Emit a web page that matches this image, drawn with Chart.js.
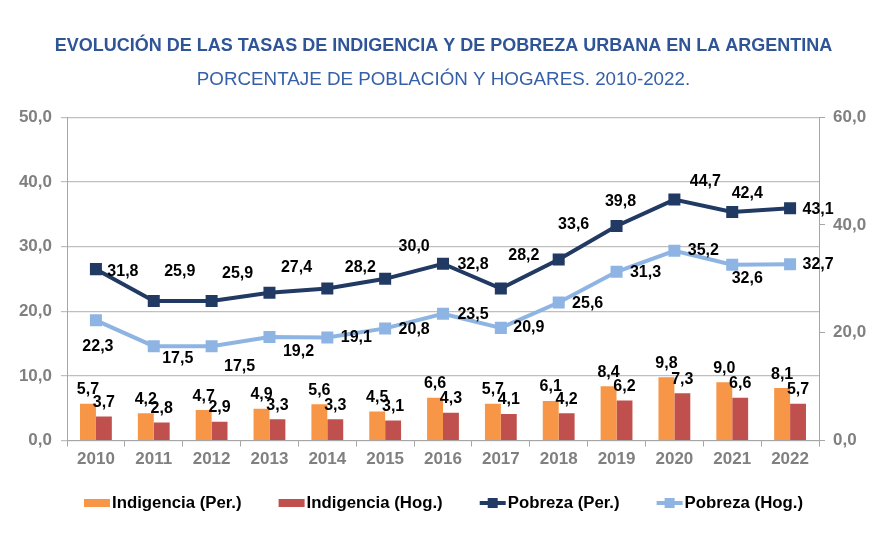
<!DOCTYPE html>
<html lang="es">
<head>
<meta charset="utf-8">
<title>Indigencia y pobreza urbana</title>
<script src="https://cdn.jsdelivr.net/npm/chart.js@4.4.1/dist/chart.umd.min.js"></script>
<style>
  html, body { margin: 0; padding: 0; background: #fff; }
  #contenedor { width: 887px; height: 558px; position: relative; }
</style>
</head>
<body>
<div id="contenedor"><canvas id="grafico"></canvas></div>
<script>
// datos
const anios = ['2010', '2011', '2012', '2013', '2014', '2015', '2016', '2017', '2018', '2019', '2020', '2021', '2022'];
const indigenciaPer = [5.7, 4.2, 4.7, 4.9, 5.6, 4.5, 6.6, 5.7, 6.1, 8.4, 9.8, 9.0, 8.1];
const indigenciaHog = [3.7, 2.8, 2.9, 3.3, 3.3, 3.1, 4.3, 4.1, 4.2, 6.2, 7.3, 6.6, 5.7];
const pobrezaPer = [31.8, 25.9, 25.9, 27.4, 28.2, 30.0, 32.8, 28.2, 33.6, 39.8, 44.7, 42.4, 43.1];
const pobrezaHog = [22.3, 17.5, 17.5, 19.2, 19.1, 20.8, 23.5, 20.9, 25.6, 31.3, 35.2, 32.6, 32.7];
const ticksIzq = [0, 10, 20, 30, 40, 50];
const ticksDer = [0, 20, 40, 60];

// colores
const NARANJA = '#F79646';
const ROJO = '#C0504D';
const AZUL_OSCURO = '#213A63';
const AZUL_CLARO = '#8EB4E3';
const GRIS = '#808080';
const FUENTE = '"Liberation Sans", Arial, sans-serif';

// desplazamiento [dx, dy] de cada etiqueta respecto de su punto (solo ubicacion)
const desplazPobrezaPer = [[27, 2], [26, -29], [26, -27], [27, -25], [33, -21], [29, -32], [30, 1], [23, -33], [15, -35], [4, -24], [31, -18], [15, -18], [28, 1]];
const desplazPobrezaHog = [[2, 26], [24, 12], [28, 20], [29, 15], [29, 0], [29, 1], [30, 1], [28, 0], [29, 1], [29, 1], [29, 0], [15, 14], [28, 0]];

const formato = v => v.toFixed(1).replace('.', ',');

/* dibuja los valores sobre barras y puntos */
const etiquetasValores = {
  id: 'etiquetasValores',
  afterDatasetsDraw(chart) {
    const ctx = chart.ctx;
    ctx.save();
    ctx.font = 'bold 16px ' + FUENTE;
    ctx.fillStyle = '#000';
    ctx.textAlign = 'center';
    ctx.textBaseline = 'middle';
    chart.data.datasets.forEach((ds, di) => {
      const meta = chart.getDatasetMeta(di);
      meta.data.forEach((el, i) => {
        let x = el.x, y = el.y;
        if (ds.type === 'bar') {
          y = y - 14;
        } else {
          const d = ds.desplaz[i];
          x += d[0];
          y += d[1];
        }
        ctx.fillText(formato(ds.data[i]), x, y);
      });
    });
    ctx.restore();
  }
};

/* leyenda propia debajo del grafico */
const leyendaInferior = {
  id: 'leyendaInferior',
  afterDraw(chart) {
    const ctx = chart.ctx;
    const yc = 503;
    ctx.save();
    ctx.font = 'bold 16.8px ' + FUENTE;
    ctx.textBaseline = 'middle';
    const items = chart.data.datasets.slice().sort((a, b) => a.posLeyenda - b.posLeyenda);
    const anchoMarca = 26, sep = 2, hueco = 37;
    let total = 0;
    items.forEach((ds, i) => {
      total += anchoMarca + sep + ctx.measureText(ds.label).width + (i < items.length - 1 ? hueco : 0);
    });
    let x = (chart.width - total) / 2;
    items.forEach(ds => {
      if (ds.type === 'bar') {
        ctx.fillStyle = ds.backgroundColor;
        ctx.fillRect(x, yc - 4, anchoMarca, 8);
      } else {
        ctx.strokeStyle = ds.borderColor;
        ctx.lineWidth = 4;
        ctx.beginPath();
        ctx.moveTo(x, yc);
        ctx.lineTo(x + anchoMarca, yc);
        ctx.stroke();
        ctx.fillStyle = ds.borderColor;
        ctx.fillRect(x + anchoMarca / 2 - 5, yc - 5, 10, 10);
      }
      x += anchoMarca + sep;
      ctx.fillStyle = '#000';
      ctx.textAlign = 'left';
      ctx.fillText(ds.label, x, yc);
      x += ctx.measureText(ds.label).width + hueco;
    });
    ctx.restore();
  }
};

const ctx = document.getElementById('grafico').getContext('2d');
new Chart(ctx, {
  data: {
    labels: anios,
    datasets: [
      {
        type: 'line', label: 'Pobreza (Per.)', data: pobrezaPer, yAxisID: 'y2',
        borderColor: AZUL_OSCURO, backgroundColor: AZUL_OSCURO, borderWidth: 4,
        pointStyle: 'rect', pointRadius: 8.5, pointBorderWidth: 0,
        order: 1, posLeyenda: 2, desplaz: desplazPobrezaPer
      },
      {
        type: 'line', label: 'Pobreza (Hog.)', data: pobrezaHog, yAxisID: 'y2',
        borderColor: AZUL_CLARO, backgroundColor: AZUL_CLARO, borderWidth: 4,
        pointStyle: 'rect', pointRadius: 8.5, pointBorderWidth: 0,
        order: 1, posLeyenda: 3, desplaz: desplazPobrezaHog
      },
      {
        type: 'bar', label: 'Indigencia (Per.)', data: indigenciaPer, yAxisID: 'y',
        backgroundColor: NARANJA, order: 2, posLeyenda: 0,
        categoryPercentage: 0.55, barPercentage: 1
      },
      {
        type: 'bar', label: 'Indigencia (Hog.)', data: indigenciaHog, yAxisID: 'y',
        backgroundColor: ROJO, order: 2, posLeyenda: 1,
        categoryPercentage: 0.55, barPercentage: 1
      }
    ]
  },
  options: {
    responsive: true,
    maintainAspectRatio: false,
    animation: false,
    layout: { padding: { left: 0, right: 0, top: 0, bottom: 87.5 } },
    plugins: {
      legend: { display: false },
      tooltip: { enabled: false },
      title: {
        display: true,
        text: 'EVOLUCIÓN DE LAS TASAS DE INDIGENCIA Y DE POBREZA URBANA EN LA ARGENTINA',
        color: '#2F5597',
        font: { family: FUENTE, size: 18, weight: 'bold' },
        padding: { top: 35, bottom: 0 }
      },
      subtitle: {
        display: true,
        text: 'PORCENTAJE DE POBLACIÓN Y HOGARES. 2010-2022.',
        color: '#3560A8',
        font: { family: FUENTE, size: 18.8, weight: 'normal' },
        padding: { top: 12, bottom: 26 }
      }
    },
    scales: {
      x: {
        grid: { display: true, drawOnChartArea: false, drawTicks: true, tickLength: 6, offset: true, color: '#A6A6A6' },
        border: { display: true, color: '#A6A6A6' },
        ticks: { color: GRIS, font: { family: FUENTE, size: 17, weight: 'bold' }, padding: 3, maxRotation: 0 },
        afterFit(s) { s.height = 30; }
      },
      y: {
        position: 'left',
        min: ticksIzq[0], max: ticksIzq[ticksIzq.length - 1],
        ticks: {
          stepSize: ticksIzq[1] - ticksIzq[0],
          color: GRIS, font: { family: FUENTE, size: 17, weight: 'bold' }, padding: 9,
          callback: v => formato(v)
        },
        grid: { color: '#BFBFBF', lineWidth: 1.2, tickLength: 6 },
        border: { display: true, color: '#A6A6A6' },
        afterFit(s) { s.width = 67; }
      },
      y2: {
        position: 'right',
        min: ticksDer[0], max: ticksDer[ticksDer.length - 1],
        ticks: {
          stepSize: ticksDer[1] - ticksDer[0],
          color: GRIS, font: { family: FUENTE, size: 17, weight: 'bold' }, padding: 8,
          callback: v => formato(v)
        },
        grid: { drawOnChartArea: false, drawTicks: true, tickLength: 6, color: '#A6A6A6' },
        border: { display: true, color: '#A6A6A6' },
        afterFit(s) { s.width = 68; }
      }
    }
  },
  plugins: [etiquetasValores, leyendaInferior]
});
</script>
</body>
</html>
